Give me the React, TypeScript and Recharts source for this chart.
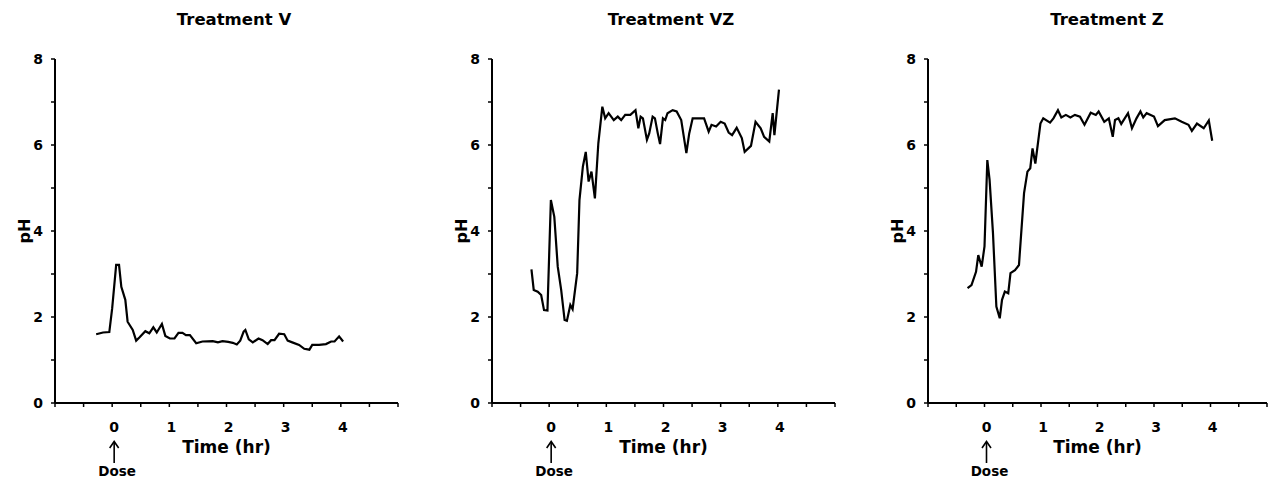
import { LineChart, Line, XAxis, YAxis } from "recharts";

const xTicks = [-1, -0.5, 0, 0.5, 1, 1.5, 2, 2.5, 3, 3.5, 4, 4.5, 5];
const yTicks = [0, 1, 2, 3, 4, 5, 6, 7, 8];
const xLabels = [0, 1, 2, 3, 4];
const yLabels = [0, 2, 4, 6, 8];

const timeV = [-0.28, -0.16, -0.05, 0.0, 0.07, 0.12, 0.16, 0.23, 0.27, 0.36, 0.42, 0.48, 0.58, 0.65, 0.72, 0.78, 0.87, 0.93, 1.01, 1.09, 1.16, 1.23, 1.29, 1.36, 1.47, 1.58, 1.76, 1.85, 1.93, 2.03, 2.11, 2.18, 2.24, 2.3, 2.33, 2.39, 2.46, 2.56, 2.63, 2.72, 2.78, 2.84, 2.92, 3.01, 3.07, 3.15, 3.27, 3.36, 3.45, 3.5, 3.62, 3.74, 3.83, 3.89, 3.97, 4.04];
const phV = [1.6, 1.64, 1.65, 2.2, 3.21, 3.21, 2.7, 2.4, 1.89, 1.7, 1.45, 1.53, 1.67, 1.62, 1.76, 1.64, 1.84, 1.56, 1.5, 1.5, 1.63, 1.63, 1.58, 1.58, 1.39, 1.43, 1.44, 1.41, 1.44, 1.42, 1.4, 1.36, 1.45, 1.66, 1.7, 1.48, 1.41, 1.5, 1.46, 1.37, 1.46, 1.46, 1.61, 1.6, 1.45, 1.41, 1.35, 1.26, 1.24, 1.35, 1.35, 1.37, 1.43, 1.43, 1.55, 1.43];

const timeVZ = [-0.31, -0.27, -0.2, -0.14, -0.09, -0.03, 0.03, 0.09, 0.15, 0.21, 0.27, 0.31, 0.37, 0.41, 0.49, 0.53, 0.59, 0.64, 0.69, 0.74, 0.8, 0.86, 0.93, 0.98, 1.04, 1.13, 1.2, 1.26, 1.33, 1.42, 1.51, 1.56, 1.6, 1.64, 1.71, 1.75, 1.81, 1.85, 1.9, 1.94, 1.99, 2.03, 2.07, 2.16, 2.23, 2.31, 2.4, 2.45, 2.51, 2.59, 2.71, 2.79, 2.84, 2.92, 3.0, 3.07, 3.14, 3.2, 3.28, 3.37, 3.42, 3.53, 3.61, 3.7, 3.76, 3.85, 3.91, 3.94, 4.02];
const phVZ = [3.11, 2.63, 2.59, 2.51, 2.16, 2.15, 4.72, 4.33, 3.17, 2.63, 1.93, 1.91, 2.28, 2.18, 3.02, 4.72, 5.5, 5.84, 5.15, 5.38, 4.76, 6.04, 6.89, 6.62, 6.74, 6.58, 6.66, 6.58, 6.7, 6.7, 6.81, 6.39, 6.66, 6.62, 6.12, 6.27, 6.66, 6.62, 6.27, 6.02, 6.62, 6.58, 6.74, 6.81, 6.78, 6.58, 5.81, 6.27, 6.62, 6.62, 6.62, 6.31, 6.47, 6.43, 6.54, 6.5, 6.29, 6.23, 6.4, 6.16, 5.84, 5.98, 6.54, 6.39, 6.19, 6.08, 6.74, 6.23, 7.29];

const timeZ = [-0.3, -0.23, -0.15, -0.11, -0.05, 0.0, 0.05, 0.09, 0.15, 0.21, 0.27, 0.31, 0.36, 0.42, 0.46, 0.54, 0.61, 0.7, 0.76, 0.81, 0.85, 0.9, 0.99, 1.04, 1.16, 1.22, 1.3, 1.36, 1.44, 1.52, 1.6, 1.69, 1.77, 1.88, 1.97, 2.02, 2.12, 2.2, 2.27, 2.31, 2.37, 2.42, 2.54, 2.61, 2.69, 2.76, 2.81, 2.87, 3.0, 3.07, 3.19, 3.37, 3.49, 3.61, 3.67, 3.76, 3.88, 3.97, 4.03];
const phZ = [2.67, 2.74, 3.05, 3.44, 3.17, 3.64, 5.65, 5.19, 3.95, 2.24, 1.97, 2.4, 2.59, 2.55, 3.02, 3.09, 3.21, 4.88, 5.38, 5.46, 5.92, 5.57, 6.5, 6.62, 6.52, 6.62, 6.81, 6.64, 6.7, 6.64, 6.7, 6.66, 6.47, 6.75, 6.7, 6.78, 6.54, 6.62, 6.19, 6.58, 6.62, 6.49, 6.74, 6.39, 6.62, 6.78, 6.64, 6.74, 6.66, 6.44, 6.58, 6.62, 6.54, 6.47, 6.33, 6.5, 6.39, 6.57, 6.1];

const FONT = "'DejaVu Sans', sans-serif";

function TimeTick(props: any) {
  const { x, y, payload } = props;
  const v = payload.value;
  if (!xLabels.includes(v)) return null;
  return (
    <g fontFamily={FONT} fontWeight="bold" fill="#000">
      <text x={x + 2} y={y} dy="0.71em" textAnchor="middle" fontSize={14}>
        {v}
      </text>
      {v === 0 && (
        <g>
          <line x1={x + 2} y1={y + 20} x2={x + 2} y2={y + 41} stroke="#000" strokeWidth={1.6} />
          <path d={`M${x - 2.5},${y + 26} L${x + 2},${y + 19.5} L${x + 6.5},${y + 26}`} fill="none" stroke="#000" strokeWidth={1.6} />
          <text x={x + 5} y={y + 54} textAnchor="middle" fontSize={13.5}>
            Dose
          </text>
        </g>
      )}
    </g>
  );
}

function Panel({ title, time, ph, left, width, right }: { title: string; time: number[]; ph: number[]; left: number; width: number; right: number }) {
  const data = time.map((t, i) => ({ t, ph: ph[i] }));
  return (
    <div style={{ position: "absolute", left, top: 0 }}>
      <LineChart width={width} height={480} data={data} margin={{ top: 59, right, bottom: 22, left: 15 }}>
        <XAxis
          type="number"
          dataKey="t"
          domain={[-1, 5]}
          ticks={xTicks}
          height={55}
          axisLine={{ stroke: "#000", strokeWidth: 2 }}
          tickLine={{ stroke: "#000", strokeWidth: 1.5 }}
          tickSize={4}
          tickMargin={15}
          tick={<TimeTick />}
          interval={0}
          label={{ value: "Time (hr)", position: "insideBottom", offset: 5, fill: "#000", fontSize: 17, fontWeight: "bold", fontFamily: FONT }}
        />
        <YAxis
          type="number"
          domain={[0, 8]}
          ticks={yTicks}
          width={40}
          interval={0}
          axisLine={{ stroke: "#000", strokeWidth: 2 }}
          tickLine={{ stroke: "#000", strokeWidth: 1.5 }}
          tickSize={4}
          tickMargin={8}
          tick={{ fill: "#000", fontSize: 14, fontWeight: "bold", fontFamily: FONT }}
          tickFormatter={(v: number) => (yLabels.includes(v) ? String(v) : "")}
          label={{ value: "pH", angle: -90, position: "insideLeft", offset: 9, fill: "#000", fontSize: 16, fontWeight: "bold", fontFamily: FONT, style: { textAnchor: "middle" } }}
        />
        <Line type="linear" dataKey="ph" stroke="#000" strokeWidth={2.2} dot={false} isAnimationActive={false} />
      </LineChart>
      <div
        style={{
          position: "absolute",
          top: 10,
          left: 234 - 150,
          width: 300,
          textAlign: "center",
          fontFamily: FONT,
          fontWeight: "bold",
          fontSize: 16.5,
          color: "#000",
        }}
      >
        {title}
      </div>
    </div>
  );
}

export default function App() {
  return (
    <div style={{ position: "absolute", left: 0, top: 0, width: 1268, height: 480, background: "#fff", overflow: "hidden" }}>
      <Panel title="Treatment V" time={timeV} ph={phV} left={0} width={420} right={22} />
      <Panel title="Treatment VZ" time={timeVZ} ph={phVZ} left={437} width={420} right={22} />
      <Panel title="Treatment Z" time={timeZ} ph={phZ} left={873} width={395} right={1} />
    </div>
  );
}
